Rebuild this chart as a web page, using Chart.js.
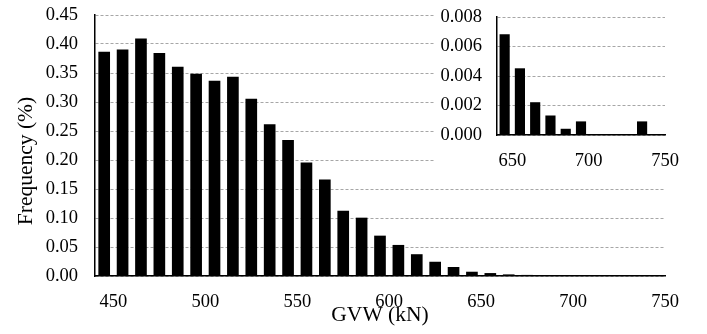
<!DOCTYPE html>
<html>
<head>
<meta charset="utf-8">
<script src="https://cdn.jsdelivr.net/npm/chart.js@4.4.1/dist/chart.umd.min.js"></script>
<style>
  html, body { margin: 0; padding: 0; background: #fff; }
  #wrap { position: relative; width: 707px; height: 334px; }
  #mainChart { position: absolute; left: 0; top: 0; }
  #insetChart { position: absolute; left: 434px; top: 0; background: #fff; }
</style>
</head>
<body>
<div id="wrap">
  <canvas id="mainChart" width="707" height="334"></canvas>
  <canvas id="insetChart" width="273" height="172"></canvas>
</div>
<script>
// GVW bins (10 kN wide) - centre of each bin
const binCenters = [445, 455, 465, 475, 485, 495, 505, 515, 525, 535, 545,
  555, 565, 575, 585, 595, 605, 615, 625, 635, 645, 655, 665, 675, 685,
  695, 705, 715, 725, 735, 745];
// Frequency (%) per bin
const mainFreq = [0.386, 0.390, 0.409, 0.384, 0.360, 0.348, 0.336, 0.343,
  0.305, 0.261, 0.234, 0.195, 0.166, 0.112, 0.100, 0.069, 0.053, 0.037,
  0.024, 0.015, 0.0068, 0.0045, 0.0022, 0.0013, 0.0004, 0.0009, 0, 0, 0,
  0.0009, 0];
const mainXTicks = [450, 500, 550, 600, 650, 700, 750];
const mainYTicks = [0, 0.05, 0.10, 0.15, 0.20, 0.25, 0.30, 0.35, 0.40, 0.45];

// zoomed tail (inset)
const insetFrom = 640;
const insetXTicks = [650, 700, 750];
const insetYTicks = [0, 0.002, 0.004, 0.006, 0.008];

const FONT = "'Liberation Serif', 'Times New Roman', serif";
const GRID = "#a6a6a6";

function points(xs, ys) {
  return xs.map((x, i) => ({ x: x, y: ys[i] }));
}

function fixTicks(list) {
  return function (scale) {
    scale.ticks = list.map((v) => ({ value: v }));
  };
}

// y axis: fixed width, and don't let the tick padding push the plot down
function fitY(width) {
  return function (scale) {
    scale.width = width;
    scale.paddingTop = 0;
    scale.paddingBottom = 0;
  };
}

// y title sits a bit below the middle of the axis in the original
const yTitlePlugin = {
  id: "yTitle",
  afterDraw(chart) {
    const ctx = chart.ctx;
    ctx.save();
    ctx.translate(26, 161);
    ctx.rotate(-Math.PI / 2);
    ctx.font = "21.5px " + FONT;
    ctx.fillStyle = "#000";
    ctx.textAlign = "center";
    ctx.textBaseline = "middle";
    ctx.fillText("Frequency (%)", 0, 0);
    ctx.restore();
  },
};

// Main histogram
new Chart(document.getElementById("mainChart"), {
  type: "bar",
  data: {
    datasets: [
      {
        data: points(binCenters, mainFreq),
        backgroundColor: "#000",
        barThickness: 11,
      },
    ],
  },
  options: {
    responsive: false,
    animation: false,
    layout: { padding: { left: 0, right: 42, top: 15, bottom: 0 } },
    plugins: { legend: { display: false }, tooltip: { enabled: false } },
    scales: {
      x: {
        type: "linear",
        min: 440,
        max: 750,
        offset: false,
        afterBuildTicks: fixTicks(mainXTicks),
        afterFit: (s) => { s.height = 58; },
        grid: { display: false },
        border: { display: true, color: "#000", width: 1.5 },
        ticks: {
          padding: 7,
          maxRotation: 0,
          color: "#000",
          font: { family: FONT, size: 18.5 },
          callback: (v) => v,
        },
        title: {
          display: true,
          text: "GVW (kN)",
          color: "#000",
          font: { family: FONT, size: 21.5 },
          padding: { top: 0, bottom: 6 },
        },
      },
      y: {
        min: 0,
        max: 0.45,
        afterBuildTicks: fixTicks(mainYTicks),
        afterFit: fitY(95),
        grid: { color: GRID, lineWidth: 1, drawTicks: false },
        border: { display: true, color: "#000", width: 1.5, dash: [3, 2] },
        ticks: {
          padding: 17,
          color: "#000",
          font: { family: FONT, size: 18.5 },
          callback: (v) => v.toFixed(2),
        },
      },
    },
  },
  plugins: [yTitlePlugin],
});

// Inset: tail of the distribution
const tailX = binCenters.filter((x) => x > insetFrom);
const tailY = mainFreq.filter((y, i) => binCenters[i] > insetFrom);

new Chart(document.getElementById("insetChart"), {
  type: "bar",
  data: {
    datasets: [
      {
        data: points(tailX, tailY),
        backgroundColor: "#000",
        barThickness: 9.5,
      },
    ],
  },
  options: {
    responsive: false,
    animation: false,
    layout: { padding: { left: 0, right: 42, top: 17, bottom: 0 } },
    plugins: { legend: { display: false }, tooltip: { enabled: false } },
    scales: {
      x: {
        type: "linear",
        min: insetFrom,
        max: 750,
        offset: false,
        afterBuildTicks: fixTicks(insetXTicks),
        afterFit: (s) => { s.height = 37; },
        grid: { display: false },
        border: { display: true, color: "#000", width: 1.5 },
        ticks: {
          padding: 7,
          maxRotation: 0,
          color: "#000",
          font: { family: FONT, size: 18.5 },
          callback: (v) => v,
        },
      },
      y: {
        min: 0,
        max: 0.008,
        afterBuildTicks: fixTicks(insetYTicks),
        afterFit: fitY(63),
        grid: { color: GRID, lineWidth: 1, drawTicks: false },
        border: { display: true, color: "#000", width: 1.5, dash: [3, 2] },
        ticks: {
          padding: 15,
          color: "#000",
          font: { family: FONT, size: 18.5 },
          callback: (v) => v.toFixed(3),
        },
      },
    },
  },
});
</script>
</body>
</html>
